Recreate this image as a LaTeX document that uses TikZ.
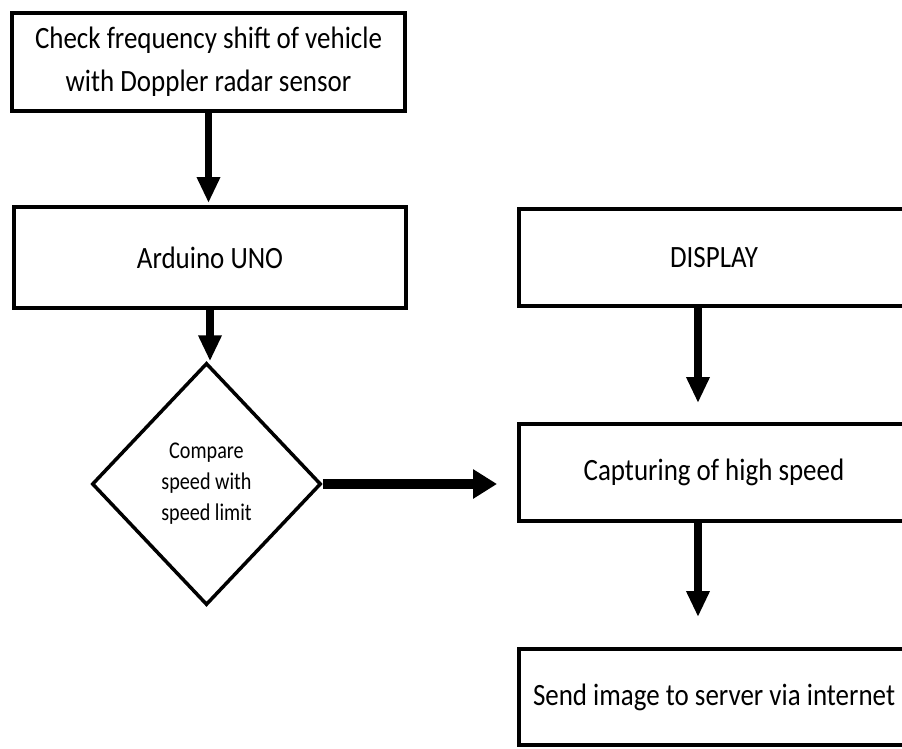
\documentclass[tikz,border=0pt]{standalone}
\usepackage{fontspec}
\setmainfont{Carlito}
\newfontfamily\boxfont{Carlito}[FakeStretch=0.87]
\newfontfamily\diafont{Carlito}[FakeStretch=0.84]
\usetikzlibrary{arrows.meta,shapes.geometric}
\begin{document}
\begin{tikzpicture}[x=1pt,y=-1pt,
  box/.style={draw, line width=4pt, rectangle, inner sep=0pt, align=center,
    font=\boxfont\fontsize{31}{43}\selectfont},
  decision/.style={draw, diamond, line width=3.5pt, inner sep=0pt, align=center,
    font=\diafont\fontsize{24}{31}\selectfont},
  arr/.style={line width=7.5pt, -{Triangle[width=22pt,length=26pt]}},
  harr/.style={line width=10pt, -{Triangle[width=28pt,length=24pt]}}
]
\useasboundingbox (0,0) rectangle (902,749);
\clip (0,0) rectangle (902,749);
\fill[white] (0,0) rectangle (902,749);

\node[box, minimum width=393pt, minimum height=98pt] (b1) at (208.5,62)
  {Check frequency shift of vehicle\\with Doppler radar sensor};
\node[box, minimum width=392pt, minimum height=101pt] (b2) at (210,257.5) {Arduino UNO};
\node[decision, minimum width=229pt, minimum height=242pt] (dia) at (206.5,484)
  {Compare\\speed with\\speed limit};
\node[box, minimum width=390pt, minimum height=97pt] (disp) at (714,257.5) {DISPLAY};
\node[box, minimum width=390pt, minimum height=97pt] (cap) at (714,472.5) {Capturing of high speed};
\node[box, minimum width=390pt, minimum height=96pt] (send) at (714,697) {Send image to server via internet};

\draw[arr, shorten >=2pt] (b1.south) -- (b1.south |- b2.north);
\draw[arr] (b2.south) -- (b2.south |- dia.north);
\draw[harr, shorten >=20pt] (dia.east) -- (dia.east -| cap.west);
\draw[arr, shorten >=19pt] ([xshift=-16pt]disp.south) -- ([xshift=-16pt]disp.south |- cap.north);
\draw[arr, shorten >=30pt] ([xshift=-16pt]cap.south) -- ([xshift=-16pt]cap.south |- send.north);
\end{tikzpicture}
\end{document}
